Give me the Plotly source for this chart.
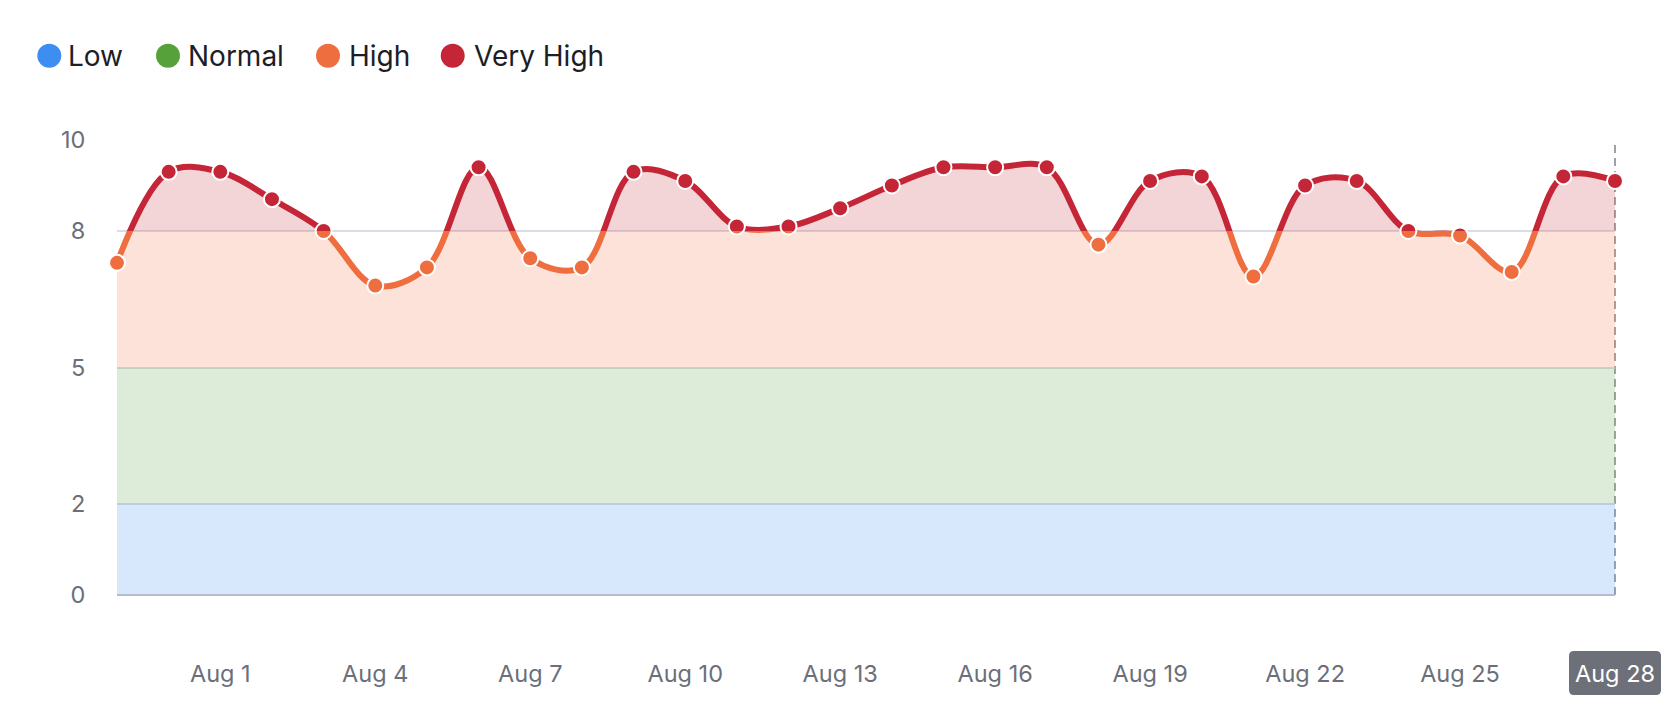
import pandas as pd
import plotly.graph_objects as go

# daily readings, Jul 30 - Aug 28
dates = [
    "2024-07-30", "2024-07-31", "2024-08-01", "2024-08-02", "2024-08-03",
    "2024-08-04", "2024-08-05", "2024-08-06", "2024-08-07", "2024-08-08",
    "2024-08-09", "2024-08-10", "2024-08-11", "2024-08-12", "2024-08-13",
    "2024-08-14", "2024-08-15", "2024-08-16", "2024-08-17", "2024-08-18",
    "2024-08-19", "2024-08-20", "2024-08-21", "2024-08-22", "2024-08-23",
    "2024-08-24", "2024-08-25", "2024-08-26", "2024-08-27", "2024-08-28",
]
values = [
    7.3, 9.3, 9.3, 8.7, 8.0, 6.8, 7.2, 9.4, 7.4, 7.2,
    9.3, 9.1, 8.1, 8.1, 8.5, 9.0, 9.4, 9.4, 9.4, 7.7,
    9.1, 9.2, 7.0, 9.0, 9.1, 8.0, 7.9, 7.1, 9.2, 9.1,
]

tick_dates = [
    "2024-08-01", "2024-08-04", "2024-08-07", "2024-08-10", "2024-08-13",
    "2024-08-16", "2024-08-19", "2024-08-22", "2024-08-25", "2024-08-28",
]
tick_labels = [
    "Aug 1", "Aug 4", "Aug 7", "Aug 10", "Aug 13",
    "Aug 16", "Aug 19", "Aug 22", "Aug 25", "Aug 28",
]
y_ticks = [0, 2, 5, 8, 10]

zone_names = ["Low", "Normal", "High", "Very High"]
zone_edges = [0, 2, 5, 8, 10]
zone_colors = ["#3d8ef0", "#57a13a", "#ee6e3f", "#c42638"]


def rgba(hex_color, alpha):
    h = hex_color.lstrip("#")
    r, g, b = (int(h[i:i + 2], 16) for i in (0, 2, 4))
    return f"rgba({r},{g},{b},{alpha})"


W, H = 1678, 724
L, R, T, B = 97, 43, 140, 128.5
PAD = 20  # room so edge markers are not cut
pw = W - L - R
ph = H - T - B
x_lo = PAD / pw
x_hi = 1 - PAD / pw

ymin, ymax = zone_edges[0], zone_edges[-1]
day_px = (pw - 2 * PAD) / (len(dates) - 1)
pad_days = pd.Timedelta(days=PAD / day_px)
x2_range = [
    (pd.Timestamp(dates[0]) - pad_days).isoformat(),
    (pd.Timestamp(dates[-1]) + pad_days).isoformat(),
]

FONT = "Inter, Noto Sans, sans-serif"
TICK_COLOR = "#6b6f7b"

fig = go.Figure()

# invisible copy on the main axes so ticks and grid get drawn
fig.add_trace(
    go.Scatter(x=dates, y=values, mode="none", showlegend=False, hoverinfo="skip")
)

# one clipped copy of the series per zone, so line, fill and markers take the zone colour
layout_axes = {}
for i, (lo, hi) in enumerate(zip(zone_edges[:-1], zone_edges[1:])):
    n = i + 2
    c = zone_colors[i]
    fig.add_trace(
        go.Scatter(
            x=dates,
            y=values,
            xaxis="x2",
            yaxis=f"y{n}",
            mode="lines+markers",
            line=dict(color=c, width=6, shape="spline"),
            fill="tozeroy",
            fillcolor=rgba(c, 0.2),
            marker=dict(size=16, color=c, line=dict(color="white", width=2)),
            showlegend=False,
            hoverinfo="skip",
        )
    )
    layout_axes[f"yaxis{n}"] = dict(
        domain=[(lo - ymin) / (ymax - ymin), (hi - ymin) / (ymax - ymin)],
        range=[lo, hi],
        anchor="x2",
        visible=False,
        automargin=False,
        fixedrange=True,
    )

ticktext = tick_labels[:-1] + [f"<span style='color:white'>{tick_labels[-1]}</span>"]

fig.update_layout(
    width=W,
    height=H,
    autosize=False,
    margin=dict(l=L, r=R, t=T, b=B, pad=0, autoexpand=False),
    paper_bgcolor="white",
    plot_bgcolor="rgba(0,0,0,0)",
    font=dict(family=FONT, color=TICK_COLOR, size=23.5),
    showlegend=False,
    hovermode=False,
    xaxis=dict(
        type="date",
        domain=[x_lo, x_hi],
        range=[dates[0], dates[-1]],
        anchor="y",
        tickvals=tick_dates,
        ticktext=ticktext,
        ticks="outside",
        ticklen=58,
        tickcolor="rgba(0,0,0,0)",
        tickfont=dict(family=FONT, size=23.5, color=TICK_COLOR),
        showgrid=False,
        showline=False,
        zeroline=False,
        automargin=False,
        fixedrange=True,
    ),
    yaxis=dict(
        range=[ymin, ymax],
        anchor="x",
        tickvals=y_ticks,
        ticks="outside",
        ticklen=26,
        tickcolor="rgba(0,0,0,0)",
        tickfont=dict(family=FONT, size=23.5, color=TICK_COLOR),
        showgrid=True,
        gridcolor="#dcdce4",
        gridwidth=2,
        zeroline=False,
        showline=False,
        automargin=False,
        fixedrange=True,
    ),
    xaxis2=dict(
        type="date",
        domain=[0, 1],
        range=x2_range,
        anchor="y5",
        visible=False,
        automargin=False,
        fixedrange=True,
    ),
    **layout_axes,
)

# baseline
fig.add_shape(
    type="line", xref="paper", yref="paper",
    x0=x_lo, x1=x_hi, y0=0, y1=0,
    line=dict(color="#b2bdd0", width=2), layer="above",
)
# hover crosshair on the last day
fig.add_shape(
    type="line", xref="paper", yref="paper",
    x0=x_hi, x1=x_hi, y0=0, y1=1,
    line=dict(color="#9fa0aa", width=2, dash="8px,5px"), layer="below",
)
# highlighted last tick label box
fig.add_shape(
    type="path", xref="paper", yref="paper",
    xsizemode="pixel", ysizemode="pixel",
    xanchor=x_hi, yanchor=0,
    path=(
        "M -41,-56 L 41,-56 Q 46,-56 46,-61 L 46,-95 Q 46,-100 41,-100 "
        "L -41,-100 Q -46,-100 -46,-95 L -46,-61 Q -46,-56 -41,-56 Z"
    ),
    fillcolor="#6e7079", line=dict(width=0), layer="below",
)

# legend row
legend_dot_x = [49.3, 168, 328, 452.7]
legend_text_x = [66, 186, 347, 472]
legend_y = (ph + T - 55.7) / ph
for name, c, dx, tx in zip(zone_names, zone_colors, legend_dot_x, legend_text_x):
    fig.add_shape(
        type="circle", xref="paper", yref="paper",
        xsizemode="pixel", ysizemode="pixel",
        xanchor=(dx - L) / pw, yanchor=legend_y,
        x0=-12, x1=12, y0=-12, y1=12,
        fillcolor=c, line=dict(width=0), layer="above",
    )
    fig.add_annotation(
        x=(tx - L) / pw, y=legend_y, xref="paper", yref="paper",
        text=name, showarrow=False, xanchor="left", yanchor="middle",
        font=dict(family=FONT, size=28, color="#1c1e26"),
    )

# drop the default body margin so the figure sits at the window corner
fig.write_html(
    "out.html",
    config={"displayModeBar": False},
    post_script="document.body.style.margin = '0';",
)
